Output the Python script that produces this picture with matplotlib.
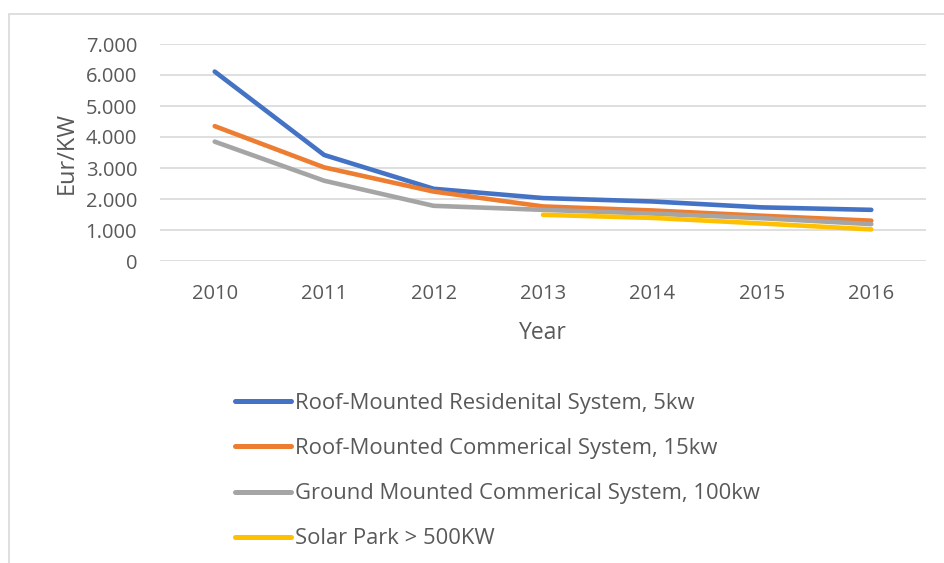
import matplotlib
matplotlib.use("Agg")
import matplotlib.pyplot as plt
from matplotlib.patches import Rectangle
from matplotlib.ticker import FuncFormatter
import numpy as np

years = ["2010", "2011", "2012", "2013", "2014", "2015", "2016"]
residential = [6110, 3420, 2330, 2030, 1920, 1730, 1650]
commercial = [4350, 3020, 2240, 1760, 1630, 1460, 1300]
ground = [3850, 2590, 1780, 1650, 1530, 1380, 1190]
solar_park = [None, None, None, 1490, 1390, 1210, 1020]

labels = ["Roof-Mounted Residenital System, 5kw",
          "Roof-Mounted Commerical System, 15kw",
          "Ground Mounted Commerical System, 100kw",
          "Solar Park > 500KW"]
colors = ["#4472C4", "#ED7D31", "#A5A5A5", "#FFC000"]

plt.rcParams['font.family'] = ['Open Sans', 'DejaVu Sans']
txt = "#595959"

fig = plt.figure(figsize=(9.44, 5.63), dpi=100)
W, H = 944, 563
# chart border
fig.patches.append(Rectangle((9 / W, -0.1), 1.2, (563 - 14) / H + 0.1,
                             transform=fig.transFigure, fill=False,
                             edgecolor="#D9D9D9", linewidth=1.2))

ax = fig.add_axes([160 / W, 1 - 261 / H, (926 - 160) / W, (261 - 44) / H])
x = np.arange(len(years))
series = [residential, commercial, ground, solar_park]
for vals, lab, col in zip(series, labels, colors):
    xs = [xi for xi, v in zip(x, vals) if v is not None]
    ys = [v for v in vals if v is not None]
    ax.plot(xs, ys, color=col, lw=3.3, label=lab, solid_capstyle="round",
            solid_joinstyle="round")

ax.set_xlim(-0.5, len(years) - 0.5)
ax.set_ylim(0, 7000)
ax.set_yticks(np.arange(0, 7001, 1000))
ax.yaxis.set_major_formatter(FuncFormatter(
    lambda v, p: "0" if v == 0 else f"{int(v):,}".replace(",", ".")))
ax.set_xticks(x)
ax.set_xticklabels(years)
ax.grid(axis="y", color="#D9D9D9", lw=1.2)
ax.set_axisbelow(True)
for s in ax.spines.values():
    s.set_visible(False)
ax.tick_params(length=0, labelsize=14.5, colors=txt)
ax.tick_params(axis="y", pad=16.5)
ax.tick_params(axis="x", pad=16.3)
ax.set_ylabel("Eur/KW", fontsize=17, color=txt, labelpad=5)
ax.set_xlabel("Year", fontsize=16.5, color=txt, labelpad=12.5)

leg = fig.legend(loc="upper left", bbox_to_anchor=(235 / W, 1 - 393 / H),
                 frameon=False, fontsize=15.8, handlelength=2.55,
                 handletextpad=0.2, labelspacing=1.1, borderpad=0,
                 borderaxespad=0)
for t in leg.get_texts():
    t.set_color(txt)
for l in leg.get_lines():
    l.set_linewidth(3.6)
    l.set_solid_capstyle("round")

fig.savefig("out.png", dpi=100)
